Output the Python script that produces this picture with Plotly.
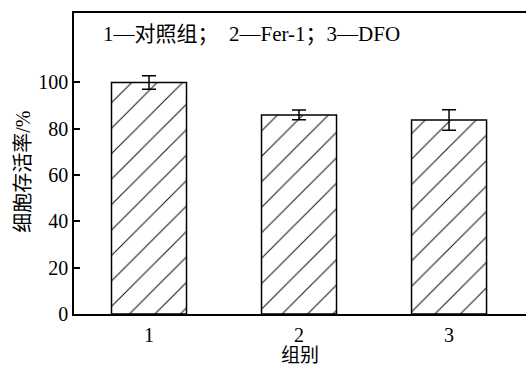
import plotly.graph_objects as go

# Cell viability per group (mean and standard deviation)
groups = [1, 2, 3]
group_labels = ["1", "2", "3"]
viability = [100.0, 86.0, 83.8]
viability_sd = [2.9, 2.1, 4.4]
y_ticks = [0, 20, 40, 60, 80, 100]

FONT = "Liberation Serif, Noto Sans CJK SC, serif"

fig = go.Figure()
fig.add_trace(go.Bar(
    x=groups,
    y=viability,
    width=0.5,
    marker=dict(
        color="white",
        line=dict(color="black", width=1.5),
        pattern=dict(shape="/", size=18, solidity=0.06,
                     fgcolor="#1a1a1a", bgcolor="white", fgopacity=1),
    ),
    error_y=dict(type="data", array=viability_sd, visible=True,
                 color="black", thickness=1.5, width=7),
    showlegend=False,
))

# group key
fig.add_annotation(
    text="1—对照组；  2—Fer-1；3—DFO",
    xref="paper", yref="paper", x=0.060, y=0.930,
    xanchor="left", yanchor="middle", showarrow=False,
    font=dict(family=FONT, size=21, color="black"),
)

# y-axis title, rotated
fig.add_annotation(
    text="细胞存活率/%",
    xref="paper", yref="paper", x=-0.113, y=0.472,
    xanchor="center", yanchor="middle", textangle=-90, showarrow=False,
    font=dict(family=FONT, size=20, color="black"),
)

# x-axis title
fig.add_annotation(
    text="组别",
    xref="paper", yref="paper", x=0.499, y=-0.137,
    xanchor="center", yanchor="middle", showarrow=False,
    font=dict(family=FONT, size=19, color="black"),
)

fig.update_layout(
    width=526, height=367,
    margin=dict(l=74, r=0, t=13, b=53),
    paper_bgcolor="white", plot_bgcolor="white",
    font=dict(family=FONT, size=20, color="black"),
    bargap=0.5,
)
fig.update_xaxes(
    range=[0.5, 3.513], tickvals=groups, ticktext=group_labels,
    showline=True, linecolor="black", linewidth=1.5, mirror=True,
    ticks="", showgrid=False, zeroline=False, automargin=False,
    ticklabelstandoff=2,
)
fig.update_yaxes(
    range=[0, 130], tickvals=y_ticks,
    showline=True, linecolor="black", linewidth=1.5,
    ticks="inside", ticklen=6, tickwidth=1.5, tickcolor="black",
    showgrid=False, zeroline=False, automargin=False,
)

fig.write_html("out.html")
